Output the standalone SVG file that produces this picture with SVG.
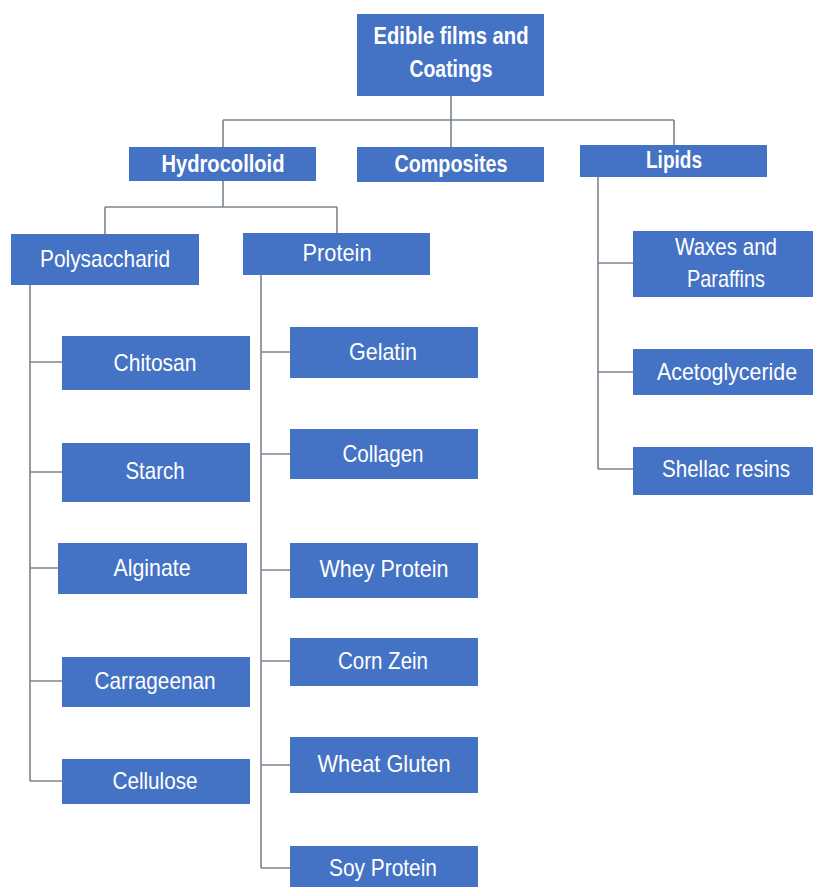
<svg xmlns="http://www.w3.org/2000/svg" width="813" height="887" viewBox="0 0 813 887">
<style>
.box{fill:#4472C4;}
.t{font-family:"Liberation Sans",Arial,sans-serif;font-size:24px;fill:#ffffff;text-anchor:middle;}
.b{font-weight:bold;}
.c{fill:none;stroke:#7a8590;stroke-width:1.6;}
</style>
<rect width="813" height="887" fill="#ffffff"/>
<g id="connectors">
<path class="c" d="M451,96 V120 M223,120 H674 M223,120 V147 M451,120 V147 M674,120 V145"/>
<path class="c" d="M223,181 V207 M105,207 H337 M105,207 V234 M337,207 V233"/>
<path class="c" d="M30,285 V781 M30,362 H62 M30,472 H62 M30,568 H58 M30,681 H62 M30,781 H62"/>
<path class="c" d="M261,275 V868 M261,352 H290 M261,454 H290 M261,570 H290 M261,661 H290 M261,765 H290 M261,868 H290"/>
<path class="c" d="M598,177 V469 M598,263 H633 M598,372 H633 M598,469 H633"/>
</g>
<g id="root"><rect class="box" x="357" y="14" width="187" height="82"/>
<text class="t b" x="451" y="44" textLength="155" lengthAdjust="spacingAndGlyphs">Edible films and</text>
<text class="t b" x="451" y="77" textLength="83" lengthAdjust="spacingAndGlyphs">Coatings</text></g>
<g id="hydrocolloid"><rect class="box" x="129" y="147" width="187" height="34"/>
<text class="t b" x="223" y="172" textLength="123" lengthAdjust="spacingAndGlyphs">Hydrocolloid</text></g>
<g id="composites"><rect class="box" x="357" y="147" width="187" height="35"/>
<text class="t b" x="451" y="172" textLength="113" lengthAdjust="spacingAndGlyphs">Composites</text></g>
<g id="lipids"><rect class="box" x="580" y="145" width="187" height="32"/>
<text class="t b" x="674" y="168" textLength="56" lengthAdjust="spacingAndGlyphs">Lipids</text></g>
<g id="polysaccharid"><rect class="box" x="11" y="234" width="188" height="51"/>
<text class="t" x="105" y="267" textLength="130" lengthAdjust="spacingAndGlyphs">Polysaccharid</text></g>
<g id="protein"><rect class="box" x="243" y="233" width="187" height="42"/>
<text class="t" x="337" y="261" textLength="69" lengthAdjust="spacingAndGlyphs">Protein</text></g>
<g id="chitosan"><rect class="box" x="62" y="336" width="188" height="54"/>
<text class="t" x="155" y="371" textLength="83" lengthAdjust="spacingAndGlyphs">Chitosan</text></g>
<g id="starch"><rect class="box" x="62" y="443" width="188" height="59"/>
<text class="t" x="155" y="479" textLength="59" lengthAdjust="spacingAndGlyphs">Starch</text></g>
<g id="alginate"><rect class="box" x="58" y="543" width="189" height="51"/>
<text class="t" x="152" y="576" textLength="77" lengthAdjust="spacingAndGlyphs">Alginate</text></g>
<g id="carrageenan"><rect class="box" x="62" y="657" width="188" height="50"/>
<text class="t" x="155" y="689" textLength="121" lengthAdjust="spacingAndGlyphs">Carrageenan</text></g>
<g id="cellulose"><rect class="box" x="62" y="759" width="188" height="45"/>
<text class="t" x="155" y="789" textLength="85" lengthAdjust="spacingAndGlyphs">Cellulose</text></g>
<g id="gelatin"><rect class="box" x="290" y="327" width="188" height="51"/>
<text class="t" x="383" y="360" textLength="68" lengthAdjust="spacingAndGlyphs">Gelatin</text></g>
<g id="collagen"><rect class="box" x="290" y="429" width="188" height="50"/>
<text class="t" x="383" y="462" textLength="81" lengthAdjust="spacingAndGlyphs">Collagen</text></g>
<g id="whey"><rect class="box" x="290" y="543" width="188" height="55"/>
<text class="t" x="384" y="577" textLength="129" lengthAdjust="spacingAndGlyphs">Whey Protein</text></g>
<g id="cornzein"><rect class="box" x="290" y="638" width="188" height="48"/>
<text class="t" x="383" y="669" textLength="90" lengthAdjust="spacingAndGlyphs">Corn Zein</text></g>
<g id="wheatgluten"><rect class="box" x="290" y="737" width="188" height="56"/>
<text class="t" x="384" y="772" textLength="133" lengthAdjust="spacingAndGlyphs">Wheat Gluten</text></g>
<g id="soyprotein"><rect class="box" x="290" y="846" width="188" height="41"/>
<text class="t" x="383" y="876" textLength="108" lengthAdjust="spacingAndGlyphs">Soy Protein</text></g>
<g id="waxes"><rect class="box" x="633" y="231" width="180" height="66"/>
<text class="t" x="726" y="255" textLength="102" lengthAdjust="spacingAndGlyphs">Waxes and</text>
<text class="t" x="726" y="287" textLength="78" lengthAdjust="spacingAndGlyphs">Paraffins</text></g>
<g id="acetoglyceride"><rect class="box" x="633" y="349" width="180" height="46"/>
<text class="t" x="727" y="380" textLength="140" lengthAdjust="spacingAndGlyphs">Acetoglyceride</text></g>
<g id="shellac"><rect class="box" x="633" y="447" width="180" height="48"/>
<text class="t" x="726" y="477" textLength="128" lengthAdjust="spacingAndGlyphs">Shellac resins</text></g>
</svg>
